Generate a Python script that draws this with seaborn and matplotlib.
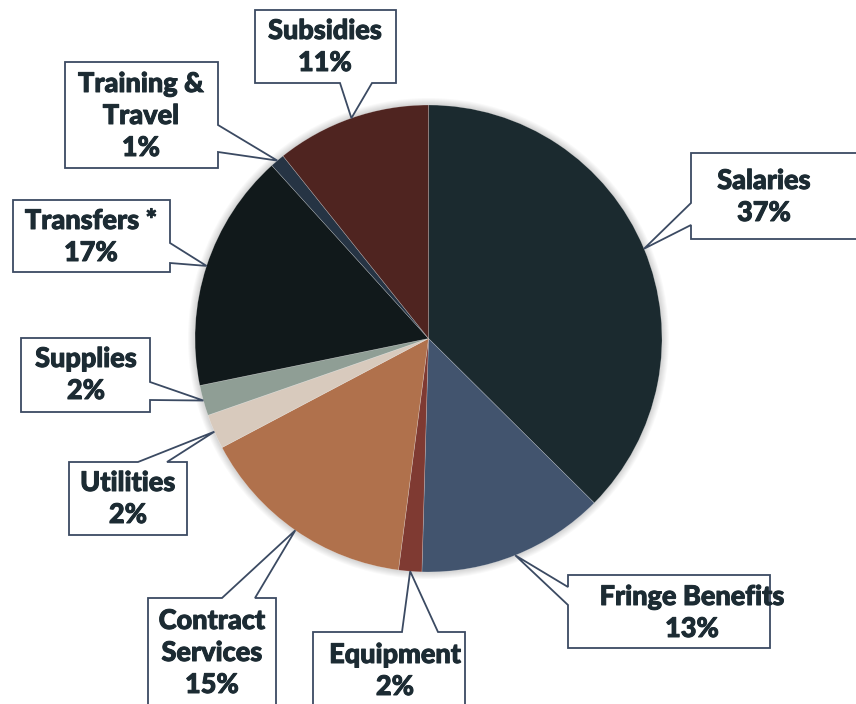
import matplotlib
matplotlib.use("Agg")
import matplotlib.pyplot as plt
import matplotlib.patheffects as pe
import seaborn as sns
import numpy as np
from matplotlib.patches import Polygon, Circle

# ---- data ----
categories = ["Salaries", "Fringe Benefits", "Equipment", "Contract\nServices",
              "Utilities", "Supplies", "Transfers *", "Training &\nTravel", "Subsidies"]
values = [37.4, 13.0, 1.6, 15.2, 2.4, 2.1, 16.5, 1.0, 10.7]
pct_labels = ["37%", "13%", "2%", "15%", "2%", "2%", "17%", "1%", "11%"]
colors = ["#1b2a2f", "#42546e", "#7f3a32", "#b0714c", "#d8cabd",
          "#8f9e95", "#11191b", "#263444", "#4f2420"]

sns.set_theme(style="white")
plt.rcParams['font.family'] = ['Lato', 'DejaVu Sans']

W, H = 856, 704
fig = plt.figure(figsize=(W / 100, H / 100), dpi=100)
ax = fig.add_axes([0, 0, 1, 1])

def P(x, y):
    return (x, H - y)

cx, cy, R = 428.5, 338.5, 233.5
center = P(cx, cy)

# soft shadow
for i in range(7):
    ax.add_patch(Circle(center, R + 1 + i * 1.0, color="#000000", alpha=0.025, lw=0, zorder=1))

ax.pie(values, colors=colors, startangle=90, counterclock=False,
       center=center, radius=R, frame=True,
       wedgeprops=dict(edgecolor=(1, 1, 1, 0.35), linewidth=0.4, zorder=2))
ax.set_xlim(0, W)
ax.set_ylim(0, H)
ax.set_aspect("equal")
ax.axis("off")

# callout geometry (image pixel coords): box, side, wedge base, text center
callouts = [
    ((691, 153, 880, 239), "left", (203, 225), (764, 197)),
    ((568, 575, 770, 648), "left", (587, 605), (692, 613)),
    ((313, 632, 465, 720), "top", (402, 438), (395, 671)),
    ((148, 598, 276, 720), "top", (222, 255), (212, 653)),
    ((69, 462, 187, 535), "top", (138, 167), (128, 499)),
    ((21, 338, 150, 412), "right", (382, 400), (86, 375)),
    ((13, 200, 170, 272), "right", (243, 263), (91, 237)),
    ((65, 62, 218, 168), "right", (125, 152), (141, 116)),
    ((255, 10, 396, 83), "bottom", (340, 372), (325, 47)),
]

total = sum(values)
cum = np.cumsum([0] + values[:-1])
edge = "#3b4a62"
txtc = "#1c2b33"
for i, (box, side, (a, b), (tx, ty)) in enumerate(callouts):
    frac = (cum[i] + values[i] / 2) / total
    ang = np.deg2rad(90 - 360 * frac)
    axx = cx + R * np.cos(ang)
    ayy = cy - R * np.sin(ang)
    x0, y0, x1, y1 = box
    anc = (axx, ayy)
    if side == "top":
        pts = [(x0, y0), (a, y0), anc, (b, y0), (x1, y0), (x1, y1), (x0, y1)]
    elif side == "right":
        pts = [(x0, y0), (x1, y0), (x1, a), anc, (x1, b), (x1, y1), (x0, y1)]
    elif side == "bottom":
        pts = [(x0, y0), (x1, y0), (x1, y1), (b, y1), anc, (a, y1), (x0, y1)]
    else:
        pts = [(x0, y0), (x1, y0), (x1, y1), (x0, y1), (x0, b), anc, (x0, a)]
    ax.add_patch(Polygon([P(*p) for p in pts], closed=True, facecolor="white",
                         edgecolor=edge, linewidth=1.3, zorder=5, joinstyle="miter"))
    ax.text(*P(tx, ty), f"{categories[i]}\n{pct_labels[i]}", ha="center", va="center",
            fontsize=19.5, fontweight="black", color=txtc, linespacing=1.4, zorder=6,
            path_effects=[pe.withStroke(linewidth=0.7, foreground=txtc)])

fig.savefig("out.png", dpi=100)
